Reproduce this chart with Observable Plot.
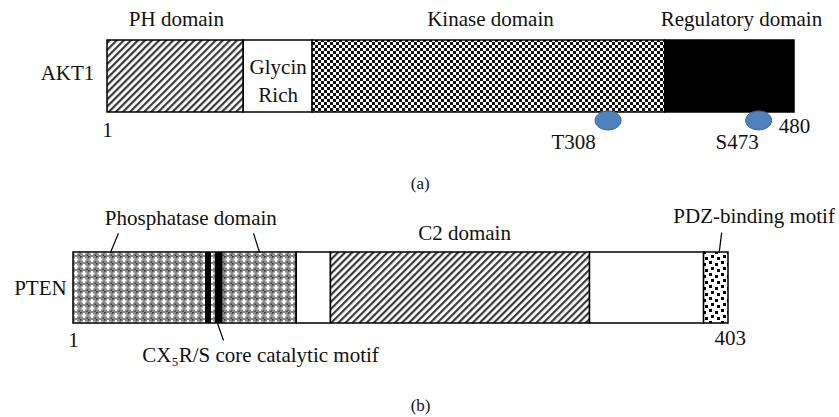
<!DOCTYPE html>
<html>
<head>
<meta charset="utf-8">
<script src="https://cdn.jsdelivr.net/npm/d3@7"></script>
<script src="https://cdn.jsdelivr.net/npm/@observablehq/plot@0.6"></script>
<style>
  body { margin: 0; background: #fff; }
  #chart svg { display: block; }
</style>
</head>
<body>
<svg width="0" height="0" style="position:absolute">
  <defs>
    <pattern id="diag" width="5" height="5" patternUnits="userSpaceOnUse" patternTransform="rotate(45)">
      <rect width="5" height="5" fill="#fff"/>
      <rect width="2.2" height="5" fill="#3a3a3a"/>
    </pattern>
    <pattern id="checker" width="6" height="6" patternUnits="userSpaceOnUse">
      <rect width="6" height="6" fill="#fff"/>
      <rect x="0" y="0" width="3" height="3" fill="#111"/>
      <rect x="3" y="3" width="3" height="3" fill="#111"/>
    </pattern>
    <pattern id="phos" width="8" height="7" patternUnits="userSpaceOnUse">
      <rect width="8" height="7" fill="#8a8a8a"/>
      <rect x="3" y="1" width="2" height="5" fill="#fff"/>
      <rect x="1.5" y="2.5" width="5" height="2" fill="#fff"/>
      <rect x="0" y="0" width="1.5" height="1.5" fill="#333"/>
      <rect x="6.5" y="5.5" width="1.5" height="1.5" fill="#444"/>
    </pattern>
    <pattern id="confetti" width="12" height="12" patternUnits="userSpaceOnUse">
      <rect width="12" height="12" fill="#fff"/>
      <rect x="1" y="1" width="3" height="3" fill="#000"/>
      <rect x="7" y="3" width="3" height="3" fill="#000"/>
      <rect x="3" y="7" width="3" height="3" fill="#000"/>
      <rect x="9" y="9" width="3" height="3" fill="#000"/>
    </pattern>
  </defs>
</svg>
<div id="chart"></div>
<script>
// ---------- AKT1 data ----------
const akt1Domains = ["PH domain", "Glycin Rich", "Kinase domain", "Regulatory domain"];
const akt1Start = [1, 96, 144, 390];
const akt1End = [96, 144, 390, 480];
const akt1Length = 480;
const akt1SiteNames = ["T308", "S473"];
const akt1SitePos = [350, 455];
const akt1SiteLabelPos = [326, 440];
const akt1TitleNames = ["PH domain", "Kinase domain", "Regulatory domain"];
const akt1TitlePos = [49, 268, 443];

// ---------- PTEN data ----------
const ptenDomains = ["Phosphatase domain", "linker", "C2 domain", "tail", "PDZ-binding motif"];
const ptenStart = [1, 138, 159, 318, 388];
const ptenEnd = [138, 159, 318, 388, 403];
const ptenLength = 403;
const ptenMotifStart = [82, 88.2];
const ptenMotifEnd = [85.7, 92.7];
const ptenTitleNames = ["Phosphatase domain", "C2 domain"];
const ptenTitlePos = [73, 241];
const ptenTitleLevel = [1.48, 1.27];
const ptenPdzLabel = "PDZ-binding motif";
const ptenPdzLabelEnd = 468.3;

const kinds = ["PH domain", "Glycin Rich", "Kinase domain", "Regulatory domain",
  "Phosphatase domain", "linker", "C2 domain", "tail", "PDZ-binding motif", "motif"];
const fills = ["url(#diag)", "#fff", "url(#checker)", "#000",
  "url(#phos)", "#fff", "url(#diag)", "#fff", "url(#confetti)", "#000"];

const font = "Liberation Serif";
const fs = 21;

const ellipseSymbol = {
  draw(ctx) {
    const rx = 13, ry = 9.5, k = 0.5523;
    ctx.moveTo(rx, 0);
    ctx.bezierCurveTo(rx, ry * k, rx * k, ry, 0, ry);
    ctx.bezierCurveTo(-rx * k, ry, -rx, ry * k, -rx, 0);
    ctx.bezierCurveTo(-rx, -ry * k, -rx * k, -ry, 0, -ry);
    ctx.bezierCurveTo(rx * k, -ry, rx, -ry * k, rx, 0);
    ctx.closePath();
  }
};

const akt1Segs = akt1Domains.map((d, i) => ({kind: d, x1: akt1Start[i], x2: akt1End[i]}));
const akt1Sites = akt1SiteNames.map((n, i) => ({name: n, pos: akt1SitePos[i], lpos: akt1SiteLabelPos[i]}));
const akt1Titles = akt1TitleNames.map((n, i) => ({name: n, pos: akt1TitlePos[i]}));

const plotA = Plot.plot({
  width: 839,
  height: 200,
  marginLeft: 0, marginRight: 0, marginTop: 0, marginBottom: 0,
  style: {fontFamily: font, background: "#fff"},
  x: {domain: [1, akt1Length], range: [107, 794], axis: null},
  y: {domain: [0, 1], range: [112, 40], axis: null},
  color: {type: "ordinal", domain: kinds, range: fills},
  marks: [
    Plot.rect(akt1Segs, {x1: "x1", x2: "x2", y1: 0, y2: 1, fill: "kind", stroke: "#000", strokeWidth: 1.5}),
    Plot.text(["Glycin\nRich"], {x: (akt1Start[1] + akt1End[1]) / 2, y: 0.47, text: d => d, fontSize: fs, lineHeight: 1.33, fill: "#111"}),
    Plot.text(akt1Titles, {x: "pos", y: 1.29, text: "name", fontSize: fs, fill: "#111"}),
    Plot.text(["AKT1"], {x: -26.9, y: 0.54, text: d => d, fontSize: fs, fill: "#111"}),
    Plot.text(["1"], {x: 1, y: -0.25, text: d => d, fontSize: fs, fill: "#111"}),
    Plot.text([String(akt1Length)], {x: akt1Length, y: -0.19, text: d => d, fontSize: fs, fill: "#111"}),
    Plot.dot(akt1Sites, {x: "pos", y: -0.11, symbol: ellipseSymbol, fill: "#4f81bd", stroke: "#3a6796", strokeWidth: 1}),
    Plot.text(akt1Sites, {x: "lpos", y: -0.41, text: "name", fontSize: fs, fill: "#111"}),
    Plot.text(["(a)"], {x: 219, y: -0.99, text: d => d, fontSize: 17, fill: "#111"})
  ]
});

const ptenSegs = ptenDomains.map((d, i) => ({kind: d, x1: ptenStart[i], x2: ptenEnd[i]}));
const ptenMotif = ptenMotifStart.map((s, i) => ({kind: "motif", x1: s, x2: ptenMotifEnd[i]}));
const ptenTitles = ptenTitleNames.map((n, i) => ({name: n, pos: ptenTitlePos[i], lvl: ptenTitleLevel[i]}));
const leaders = [
  {x1: 28.6, y1: 1.27, x2: 23.7, y2: 1},
  {x1: 111.5, y1: 1.27, x2: 115.2, y2: 1},
  {x1: 89.4, y1: 0, x2: 93.1, y2: -0.24},
  {x1: 398.8, y1: 1.28, x2: 397.3, y2: 1}
];

const plotB = Plot.plot({
  width: 839,
  height: 217,
  marginLeft: 0, marginRight: 0, marginTop: 0, marginBottom: 0,
  style: {fontFamily: font, background: "#fff"},
  x: {domain: [1, ptenLength], range: [73, 728], axis: null},
  y: {domain: [0, 1], range: [123, 52], axis: null},
  color: {type: "ordinal", domain: kinds, range: fills},
  marks: [
    Plot.rect(ptenSegs, {x1: "x1", x2: "x2", y1: 0, y2: 1, fill: "kind", stroke: "#000", strokeWidth: 1.5}),
    Plot.rect(ptenMotif, {x1: "x1", x2: "x2", y1: 0, y2: 1, fill: "kind"}),
    Plot.link(leaders, {x1: "x1", y1: "y1", x2: "x2", y2: "y2", stroke: "#000", strokeWidth: 1.2}),
    Plot.text(ptenTitles, {x: "pos", y: "lvl", text: "name", fontSize: fs, fill: "#111"}),
    Plot.text([ptenPdzLabel], {x: ptenPdzLabelEnd, y: 1.51, text: d => d, textAnchor: "end", fontSize: fs, fill: "#111"}),
    Plot.text(["PTEN"], {x: -19.3, y: 0.49, text: d => d, fontSize: fs, fill: "#111"}),
    Plot.text(["1"], {x: 1, y: -0.24, text: d => d, fontSize: fs, fill: "#111"}),
    Plot.text([String(ptenLength)], {x: 404, y: -0.21, text: d => d, fontSize: fs, fill: "#111"}),
    Plot.text(["CX₅R/S core catalytic motif"], {x: 115.8, y: -0.45, text: d => d, fontSize: fs, fill: "#111"}),
    Plot.text(["(b)"], {x: 214, y: -1.15, text: d => d, fontSize: 17, fill: "#111"})
  ]
});

const chart = document.getElementById("chart");
chart.appendChild(plotA);
chart.appendChild(plotB);
</script>
</body>
</html>
